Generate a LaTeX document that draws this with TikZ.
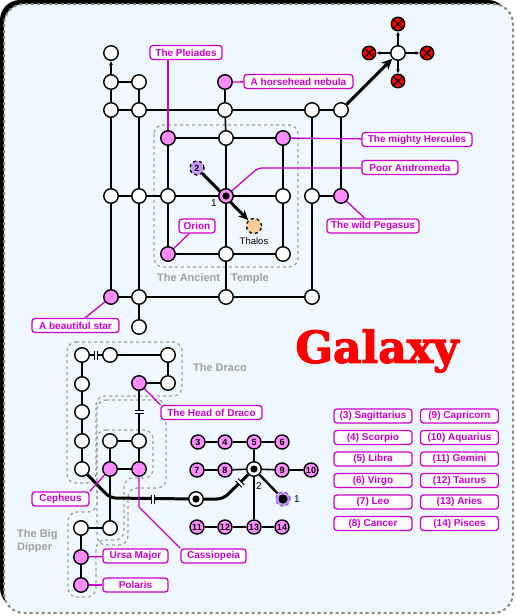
\documentclass[tikz,border=0pt]{standalone}
\usepackage{fontspec}
\setmainfont{Liberation Sans}
\newfontfamily\galfont{DejaVu Serif}[BoldFeatures={FakeBold=2.5}]
\usetikzlibrary{arrows.meta,calc}
\pgfdeclarelayer{bg}
\pgfdeclarelayer{edges}
\pgfsetlayers{bg,edges,main}
\definecolor{bgc}{HTML}{F0F8FF}
\definecolor{pinkc}{HTML}{FF8CFF}
\definecolor{magc}{HTML}{CC00CC}
\definecolor{purc}{HTML}{C499F5}
\definecolor{purd}{HTML}{9A55E0}
\definecolor{orc}{HTML}{FFCC99}
\definecolor{grc}{HTML}{A0A0A0}
\definecolor{frc}{HTML}{888888}
\newcommand\brk[3]{\begin{scope}[shift={(#1,#2)},rotate=#3]\fill[bgc] (-1.7,-4.5) rectangle (1.7,4.5);\draw[line width=1pt] (-1.7,-4.5)--(-1.7,4.5) (1.7,-4.5)--(1.7,4.5);\end{scope}}
\tikzset{
  wn/.style={circle, draw=black, fill=white, line width=1.4pt, minimum size=14.5pt, inner sep=0pt},
  pn/.style={wn, fill=pinkc},
  numn/.style={wn, fill=pinkc, minimum size=14pt, font=\bfseries\fontsize{9}{9}\selectfont},
  tgt/.style={wn, path picture={\fill[black] (path picture bounding box.center) circle (3.6pt);}},
  ptgt/.style={pn, path picture={\fill[black] (path picture bounding box.center) circle (3.6pt);}},
  redn/.style={wn, fill=red, minimum size=13.5pt, path picture={\draw[line width=1.2pt] (path picture bounding box.south west)--(path picture bounding box.north east) (path picture bounding box.north west)--(path picture bounding box.south east);}},
  edge/.style={line width=1.6pt, black},
  bold/.style={line width=3pt, black},
  magl/.style={draw=magc, line width=1.3pt},
  lab/.style={draw=magc, line width=1.3pt, fill=white, rounded corners=3pt, text=magc, font=\bfseries\fontsize{10}{10}\selectfont, minimum height=14pt, inner sep=0pt},
  leg/.style={lab, minimum width=78pt},
  gtxt/.style={text=grc, font=\bfseries\fontsize{11}{12.5}\selectfont, inner sep=0pt},
  outl/.style={draw=grc, dashed, line width=1.3pt, rounded corners=9pt},
}
\begin{document}
\begin{tikzpicture}[x=1pt,y=-1pt]
\useasboundingbox (0,0) rectangle (516,616);
\begin{pgfonlayer}{bg}
\fill[black, rounded corners=20pt] (0,0) rectangle (508,608);
\filldraw[fill=bgc, draw=frc, dashed, line width=2pt, rounded corners=20pt] (4,4) rectangle (513,613);
\draw[outl] (154,125) rectangle (298,267);
\draw[outl] (67,342) -- (182,342) -- (182,396) -- (96,396) -- (96,483) -- (67,483) -- cycle;
\draw[outl] (97,400) -- (166,400) -- (166,488) -- (128,488) -- (128,545) -- (97,545) -- cycle;
\draw[outl] (97,430) -- (153,430) -- (153,478) -- (124,478) -- (124,540) -- (96,540) -- (96,597) -- (68,597) -- (68,512) -- (97,512) -- cycle;
\end{pgfonlayer}
% top section nodes
\node[wn] (a1) at (111,53) {};
\node[wn] (a2) at (111,82) {};
\node[wn] (a3) at (111,110) {};
\node[wn] (a4) at (111,196) {};
\node[pn] (a5) at (111,297) {};
\node[wn] (b2) at (139,82) {};
\node[wn] (b3) at (139,110) {};
\node[wn] (b4) at (139,196) {};
\node[wn] (b5) at (139,297) {};
\node[wn] (b6) at (139,327) {};
\node[pn] (h1) at (225,82) {};
\node[wn] (h2) at (225,110) {};
\node[pn] (t11) at (168,138) {};
\node[wn] (t12) at (226,138) {};
\node[pn] (t13) at (283,138) {};
\node[wn] (t21) at (168,196) {};
\node[ptgt] (t22) at (226,196) {};
\node[wn] (t23) at (283,196) {};
\node[pn] (t31) at (168,254) {};
\node[wn] (t32) at (226,254) {};
\node[wn] (t33) at (283,254) {};
\node[wn] (f3) at (312,110) {};
\node[wn] (g3) at (341,110) {};
\node[wn] (f4) at (312,196) {};
\node[pn] (g4) at (341,196) {};
\node[wn] (d6) at (226,297) {};
\node[wn] (f6) at (312,297) {};
\node[wn] (x0) at (398,53) {};
\node[redn] (xu) at (398,24) {};
\node[redn] (xl) at (369,53) {};
\node[redn] (xr) at (427,53) {};
\node[redn] (xd) at (398,81) {};
\node[circle, draw=black, dashed, fill=purc, line width=1.3pt, minimum size=14pt, inner sep=0pt, font=\bfseries\fontsize{9}{9}\selectfont] (q2) at (197,168) {2};
\node[circle, draw=black, dashed, fill=orc, line width=1.3pt, minimum size=15pt, inner sep=0pt] (th) at (254,226) {};
\node[font=\fontsize{9.5}{10}\selectfont, inner sep=0pt] (thl) at (254,241) {Thalos};
\node[font=\fontsize{10}{10}\selectfont, inner sep=0pt] (one) at (214,203) {1};
% labels top
\node[lab, minimum width=72pt] (lpl) at (186,52.5) {The Pleiades};
\node[lab, minimum width=109pt] (lhh) at (298.5,81.5) {A horsehead nebula};
\node[lab, minimum width=110pt] (lhe) at (417,139.5) {The mighty Hercules};
\node[lab, minimum width=96pt] (lan) at (410,167.5) {Poor Andromeda};
\node[lab, minimum width=92pt] (lpe) at (373,226) {The wild Pegasus};
\node[lab, minimum width=36pt] (lor) at (197,226) {Orion};
\node[lab, minimum width=87pt] (lbs) at (75.5,325.5) {A beautiful star};
\node[gtxt] (ttemple) at (213,279) {The Ancient\hspace{11pt}Temple};
\coordinate (andc) at (258,168);
% bottom nodes
\node[wn] (r1) at (82,355) {};
\node[wn] (r2) at (110,355) {};
\node[wn] (r3) at (168,355) {};
\node[wn] (r4) at (168,383) {};
\node[pn] (r5) at (139,383) {};
\node[wn] (c2) at (82,384) {};
\node[wn] (c3) at (82,412) {};
\node[wn] (c4) at (82,441) {};
\node[wn] (c5) at (82,469) {};
\node[wn] (w1) at (110,441) {};
\node[wn] (w2) at (139,441) {};
\node[pn] (w3) at (110,469) {};
\node[pn] (w4) at (139,469) {};
\node[wn] (k1) at (110,528) {};
\node[wn] (k2) at (81,528) {};
\node[pn] (k3) at (81,557) {};
\node[pn] (k4) at (81,585) {};
\node[tgt] (tg) at (196,499) {};
\node[numn] (n3) at (198,442) {3};
\node[numn] (n4) at (225,442) {4};
\node[numn] (n5) at (254,442) {5};
\node[numn] (n6) at (282,442) {6};
\node[numn] (n7) at (197,470) {7};
\node[numn] (n8) at (225,470) {8};
\node[tgt] (cc) at (254,469) {};
\node[numn] (n9) at (282,470) {9};
\node[numn] (n10) at (311,470) {10};
\node[numn] (n11) at (197,527) {11};
\node[numn] (n12) at (225,527) {12};
\node[numn] (n13) at (254,527) {13};
\node[numn] (n14) at (282,527) {14};
\node[circle, draw=purd, dashed, fill=purc, line width=1.3pt, minimum size=14pt, inner sep=0pt, path picture={\fill[black] (path picture bounding box.center) circle (4.6pt);}] (p1) at (283,499) {};
\node[font=\fontsize{10}{10}\selectfont, inner sep=0pt] (lb2) at (259,486) {2};
\node[font=\fontsize{10}{10}\selectfont, inner sep=0pt] (lb1) at (297,499) {1};
\coordinate (bk1) at (110,498);
\coordinate (bk2) at (223,499);
\coordinate (ck) at (139,507);
\node[lab, minimum width=101pt] (lhd) at (211.5,412.5) {The Head of Draco};
\node[lab, minimum width=57pt] (lce) at (60.5,499) {Cepheus};
\node[lab, minimum width=65pt] (lum) at (135.5,556) {Ursa Major};
\node[lab, minimum width=65pt] (lpo) at (135.5,585) {Polaris};
\node[lab, minimum width=65pt] (lca) at (213.5,556) {Cassiopeia};
\node[gtxt] (tdraco) at (220,368) {The Draco};
\node[gtxt, align=left, anchor=west] (tbig) at (17,541) {The Big\\Dipper};
\node[text=red, font=\galfont\bfseries\fontsize{44}{44}\selectfont, inner sep=0pt] (gal) at (377,351) {Galaxy};
% legend
\node[leg] (lg3) at (373,416) {(3) Sagittarius};
\node[leg] (lg4) at (373,437.5) {(4) Scorpio};
\node[leg] (lg5) at (373,459) {(5) Libra};
\node[leg] (lg6) at (373,480.5) {(6) Virgo};
\node[leg] (lg7) at (373,502) {(7) Leo};
\node[leg] (lg8) at (373,523.5) {(8) Cancer};
\node[leg] (lg9) at (459.5,416) {(9) Capricorn};
\node[leg] (lg10) at (459.5,437.5) {(10) Aquarius};
\node[leg] (lg11) at (459.5,459) {(11) Gemini};
\node[leg] (lg12) at (459.5,480.5) {(12) Taurus};
\node[leg] (lg13) at (459.5,502) {(13) Aries};
\node[leg] (lg14) at (459.5,523.5) {(14) Pisces};
% edges
\begin{pgfonlayer}{edges}
\draw[edge, -{Latex[length=4pt,width=4pt]}] (a2) -- (a1);
\draw[edge] (a2) -- (b2);
\draw[edge] (a2) -- (a3) -- (a4) -- (a5) -- (b5) -- (d6) -- (f6);
\draw[edge] (b2) -- (b3) -- (b4) -- (b5) -- (b6);
\draw[edge] (a3) -- (b3) -- (h2) -- (f3) -- (g3);
\draw[edge] (h1) -- (h2) -- (t12);
\draw[edge] (a4) -- (b4) -- (t21);
\draw[edge] (t11) -- (t12) -- (t13) (t21) -- (t22) -- (t23) (t31) -- (t32) -- (t33);
\draw[edge] (t11) -- (t21) -- (t31) (t12) -- (t22) -- (t32) (t13) -- (t23) -- (t33);
\draw[edge] (t32) -- (d6);
\draw[edge] (f3) -- (f4) -- (f6);
\draw[edge] (g3) -- (g4);
\draw[edge] (f4) -- (g4);
\draw[bold, -{Stealth[length=11pt,width=10pt]}] (g3) -- (x0);
\draw[edge, -{Latex[length=4pt,width=4pt]}] (x0) -- (xu);
\draw[edge, -{Latex[length=4pt,width=4pt]}] (x0) -- (xl);
\draw[edge, -{Latex[length=4pt,width=4pt]}] (x0) -- (xr);
\draw[edge, -{Latex[length=4pt,width=4pt]}] (x0) -- (xd);
\draw[bold, -{Stealth[length=10pt,width=9pt]}] (q2) -- (th);
\draw[magl] (t11) -- (t11 |- lpl.south);
\draw[magl] (h1) -- (lhh);
\draw[magl] (t13) -- (lhe);
\draw[magl, rounded corners=4pt] (t22) -- (andc) -- (andc -| lan.west);
\draw[magl] (g4) -- (lpe);
\draw[magl] (t31) -- (lor);
\draw[magl] (a5) -- (lbs);
% bottom edges
\draw[edge] (r1) -- (r2);
\brk{96}{355}{0}
\draw[edge] (r2) -- (r3) -- (r4) -- (r5);
\draw[edge] (r5) -- (w2);
\brk{139}{412}{90}
\draw[edge] (r1) -- (c2) -- (c3) -- (c4) -- (c5);
\draw[edge] (w1) -- (w2) -- (w4) -- (w3) -- (w1);
\draw[edge] (w3) -- (k1) -- (k2) -- (k3) -- (k4);
\draw[bold, rounded corners=6pt] (c5) -- (bk1) -- (tg);
\draw[bold, rounded corners=6pt] (tg) -- (bk2) -- (cc);
\brk{153}{499}{0}
\brk{240}{483}{44}
\draw[edge] (n3) -- (n4) -- (n5) -- (n6);
\draw[edge] (n7) -- (n8) -- (cc) -- (n9) -- (n10);
\draw[edge] (n11) -- (n12) -- (n13) -- (n14);
\draw[edge] (n5) -- (cc) -- (n13);
\draw[line width=2.4pt] (cc) -- (p1);
\draw[magl] (r5) -- (lhd.north west);
\draw[magl] (w3) -- (lce.north east);
\draw[magl] (w4) -- (ck) -- (lca.north west);
\draw[magl] (k3) -- (lum);
\draw[magl] (k4) -- (lpo);
\end{pgfonlayer}
\end{tikzpicture}
\end{document}
